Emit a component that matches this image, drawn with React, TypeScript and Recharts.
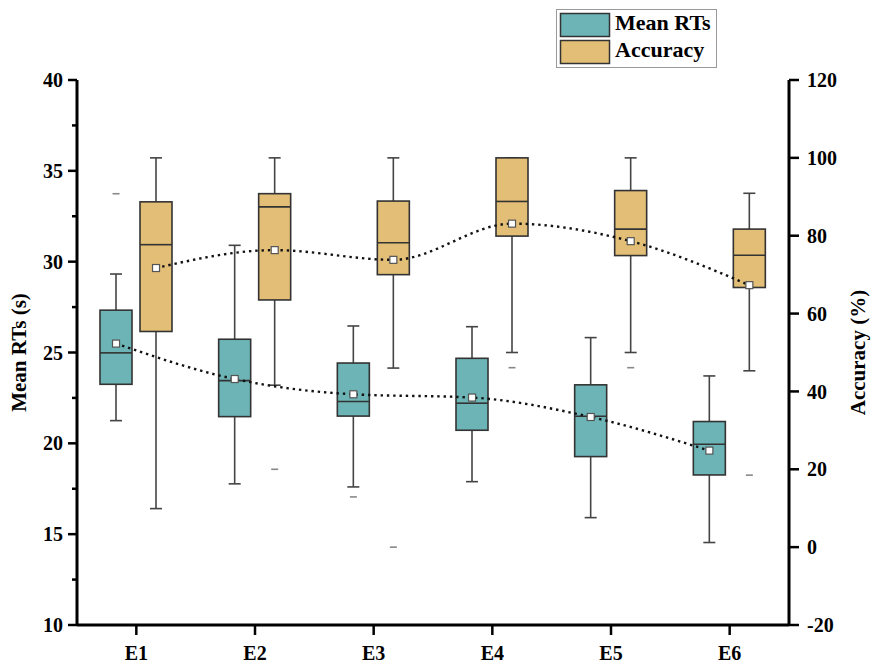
import React from 'react'
import { ComposedChart, Bar, Line, Scatter, XAxis, YAxis } from 'recharts'

// Categories
const categories = ['E1', 'E2', 'E3', 'E4', 'E5', 'E6']

// Mean RTs (s)
const rtMin = [21.25, 17.77, 17.6, 17.89, 15.91, 14.54]
const rtQ1 = [23.25, 21.47, 21.5, 20.72, 19.27, 18.26]
const rtMedian = [24.98, 23.45, 22.3, 22.21, 21.49, 19.95]
const rtQ3 = [27.33, 25.73, 24.42, 24.68, 23.22, 21.2]
const rtMax = [29.32, 30.9, 26.46, 26.42, 25.82, 23.71]
const rtMean = [25.49, 23.54, 22.7, 22.52, 21.45, 19.6]
const rtOutlierCat = ['E1', 'E3']
const rtOutlierVal = [33.74, 17.05]

// Accuracy (%)
const accMin = [9.9, 41.6, 46.0, 50.0, 50.0, 45.3]
const accQ1 = [55.4, 63.5, 70.0, 79.9, 74.9, 66.7]
const accMedian = [77.7, 87.4, 78.2, 88.8, 81.7, 75.0]
const accQ3 = [88.7, 90.8, 88.9, 100, 91.6, 81.7]
const accMax = [100, 100, 100, 100, 100, 90.9]
const accMean = [71.7, 76.3, 73.8, 83.1, 78.6, 67.3]
const accOutlierCat = ['E2', 'E3', 'E4', 'E5', 'E6']
const accOutlierVal = [20.0, 0.0, 46.1, 46.1, 18.5]

// Axis ticks
const rtTicks = [10, 12.5, 15, 17.5, 20, 22.5, 25, 27.5, 30, 32.5, 35, 37.5, 40]
const accTicks = [-20, 0, 20, 40, 60, 80, 100, 120]

const TEAL = '#6CB4B6'
const TAN = '#E3BE76'
const FONT = "'Liberation Serif', 'Times New Roman', serif"

// horizontal shift of each series from the category centre (matches barSize/barGap)
const RT_SHIFT = -0.171
const ACC_SHIFT = 0.166

const catIndex = (c: string) => categories.indexOf(c) + 1

const rows = categories.map((name, i) => ({
  name,
  rt: [rtMin[i], rtMax[i]],
  acc: [accMin[i], accMax[i]],
  rtBox: { lo: rtMin[i], q1: rtQ1[i], med: rtMedian[i], q3: rtQ3[i], hi: rtMax[i] },
  accBox: { lo: accMin[i], q1: accQ1[i], med: accMedian[i], q3: accQ3[i], hi: accMax[i] }
}))

const rtMeanData = categories.map((c, i) => ({ x: i + 1 + RT_SHIFT, v: rtMean[i] }))
const accMeanData = categories.map((c, i) => ({ x: i + 1 + ACC_SHIFT, v: accMean[i] }))
const rtOutliers = rtOutlierCat.map((c, i) => ({ x: catIndex(c) + RT_SHIFT, v: rtOutlierVal[i] }))
const accOutliers = accOutlierCat.map((c, i) => ({ x: catIndex(c) + ACC_SHIFT, v: accOutlierVal[i] }))

// box + whiskers drawn inside the range bar (whisker low .. whisker high)
function BoxShape(props: any) {
  const { x, y, width, height, payload, stats, fill } = props
  const s = payload[stats]
  const top = Math.min(y, y + height)
  const bot = Math.max(y, y + height)
  const py = (v: number) => (s.hi === s.lo ? top : top + ((bot - top) * (s.hi - v)) / (s.hi - s.lo))
  const cx = x + width / 2
  return (
    <g>
      <line x1={cx} x2={cx} y1={py(s.hi)} y2={py(s.lo)} stroke="#444" strokeWidth={1.6} />
      <line x1={cx - 6} x2={cx + 6} y1={py(s.hi)} y2={py(s.hi)} stroke="#444" strokeWidth={1.6} />
      <line x1={cx - 6} x2={cx + 6} y1={py(s.lo)} y2={py(s.lo)} stroke="#444" strokeWidth={1.6} />
      <rect x={x} y={py(s.q3)} width={width} height={py(s.q1) - py(s.q3)} fill={fill} stroke="#333" strokeWidth={1.6} />
      <line x1={x} x2={x + width} y1={py(s.med)} y2={py(s.med)} stroke="#333" strokeWidth={1.6} />
    </g>
  )
}

const MeanDot = (p: any) => (
  <rect key={`m-${p.index}`} x={p.cx - 3.5} y={p.cy - 3.5} width={7} height={7} fill="#fff" stroke="#555" strokeWidth={1.2} />
)

const OutlierMark = (p: any) => (
  <line x1={p.cx - 3.5} x2={p.cx + 3.5} y1={p.cy} y2={p.cy} stroke="#888" strokeWidth={1.6} />
)

// left axis tick with minor ticks (no label on minor)
function LeftTick(props: any) {
  const { x, y, payload } = props
  const v = payload.value
  const major = v % 5 === 0
  const ax = x + 9 + 5
  return (
    <g>
      <line x1={ax - (major ? 9 : 5)} x2={ax} y1={y} y2={y} stroke="#000" strokeWidth={2.5} />
      {major && (
        <text x={x} y={y} dy="0.35em" textAnchor="end" fill="#000" fontSize={20} fontWeight={700} fontFamily={FONT}>
          {v}
        </text>
      )}
    </g>
  )
}

const tickStyle = { fill: '#000', fontSize: 20, fontWeight: 700, fontFamily: FONT }
const titleStyle = { textAnchor: 'middle' as const, fill: '#000', fontSize: 21, fontWeight: 700, fontFamily: FONT }

export default function App() {
  return (
    <div style={{ position: 'absolute', left: 0, top: 0, width: 872, height: 664, background: '#fff' }}>
      <ComposedChart
        width={872}
        height={664}
        data={rows}
        margin={{ top: 80, right: 7, bottom: 9, left: 7 }}
        barGap={8}
      >
        <XAxis
          xAxisId="cat"
          dataKey="name"
          orientation="top"
          height={0}
          tick={false}
          tickLine={false}
          axisLine={{ stroke: '#000', strokeWidth: 1.5 }}
        />
        <XAxis
          xAxisId="num"
          type="number"
          dataKey="x"
          domain={[0.5, 6.5]}
          allowDataOverflow
          ticks={[1, 2, 3, 4, 5, 6]}
          interval={0}
          tickFormatter={(v: number) => categories[v - 1]}
          height={30}
          tickSize={10}
          tickMargin={11}
          tick={tickStyle}
          tickLine={{ stroke: '#000', strokeWidth: 2.5 }}
          axisLine={{ stroke: '#000', strokeWidth: 3 }}
        />
        <YAxis
          yAxisId="rt"
          domain={[10, 40]}
          ticks={rtTicks}
          interval={0}
          width={70}
          tickSize={9}
          tickMargin={5}
          tickLine={false}
          tick={(p: any) => <LeftTick {...p} />}
          axisLine={{ stroke: '#000', strokeWidth: 3 }}
          label={{ value: 'Mean RTs (s)', angle: -90, position: 'insideLeft', offset: 12, style: titleStyle }}
        />
        <YAxis
          yAxisId="acc"
          orientation="right"
          domain={[-20, 120]}
          ticks={accTicks}
          interval={0}
          width={76}
          tickSize={10}
          tickMargin={8}
          tick={tickStyle}
          tickLine={{ stroke: '#000', strokeWidth: 2.5 }}
          axisLine={{ stroke: '#000', strokeWidth: 3 }}
          label={{ value: 'Accuracy (%)', angle: -90, position: 'insideRight', offset: 7, style: titleStyle }}
        />
        <Bar
          xAxisId="cat"
          yAxisId="rt"
          dataKey="rt"
          barSize={32}
          isAnimationActive={false}
          shape={(p: any) => <BoxShape {...p} stats="rtBox" fill={TEAL} />}
        />
        <Bar
          xAxisId="cat"
          yAxisId="acc"
          dataKey="acc"
          barSize={32}
          isAnimationActive={false}
          shape={(p: any) => <BoxShape {...p} stats="accBox" fill={TAN} />}
        />
        <Scatter xAxisId="num" yAxisId="rt" data={rtOutliers} dataKey="v" shape={OutlierMark} isAnimationActive={false} />
        <Scatter xAxisId="num" yAxisId="acc" data={accOutliers} dataKey="v" shape={OutlierMark} isAnimationActive={false} />
        <Line
          xAxisId="num"
          yAxisId="rt"
          data={rtMeanData}
          dataKey="v"
          type="monotone"
          stroke="#111"
          strokeWidth={2.4}
          strokeDasharray="2.4 3.9"
          dot={MeanDot}
          activeDot={false}
          isAnimationActive={false}
        />
        <Line
          xAxisId="num"
          yAxisId="acc"
          data={accMeanData}
          dataKey="v"
          type="monotone"
          stroke="#111"
          strokeWidth={2.4}
          strokeDasharray="2.4 3.9"
          dot={MeanDot}
          activeDot={false}
          isAnimationActive={false}
        />
      </ComposedChart>

      {/* legend */}
      <svg width={872} height={80} style={{ position: 'absolute', left: 0, top: 0 }}>
        <rect x={556.5} y={9.5} width={160} height={58} fill="#fff" stroke="#999" strokeWidth={1} />
        <rect x={560.5} y={13.5} width={49} height={23} fill={TEAL} stroke="#333" strokeWidth={1.5} />
        <rect x={560.5} y={40.5} width={49} height={23} fill={TAN} stroke="#333" strokeWidth={1.5} />
        <text x={615} y={30} fill="#000" fontSize={22} fontWeight={700} fontFamily={FONT}>
          Mean RTs
        </text>
        <text x={615} y={56.5} fill="#000" fontSize={22} fontWeight={700} fontFamily={FONT}>
          Accuracy
        </text>
      </svg>
    </div>
  )
}
